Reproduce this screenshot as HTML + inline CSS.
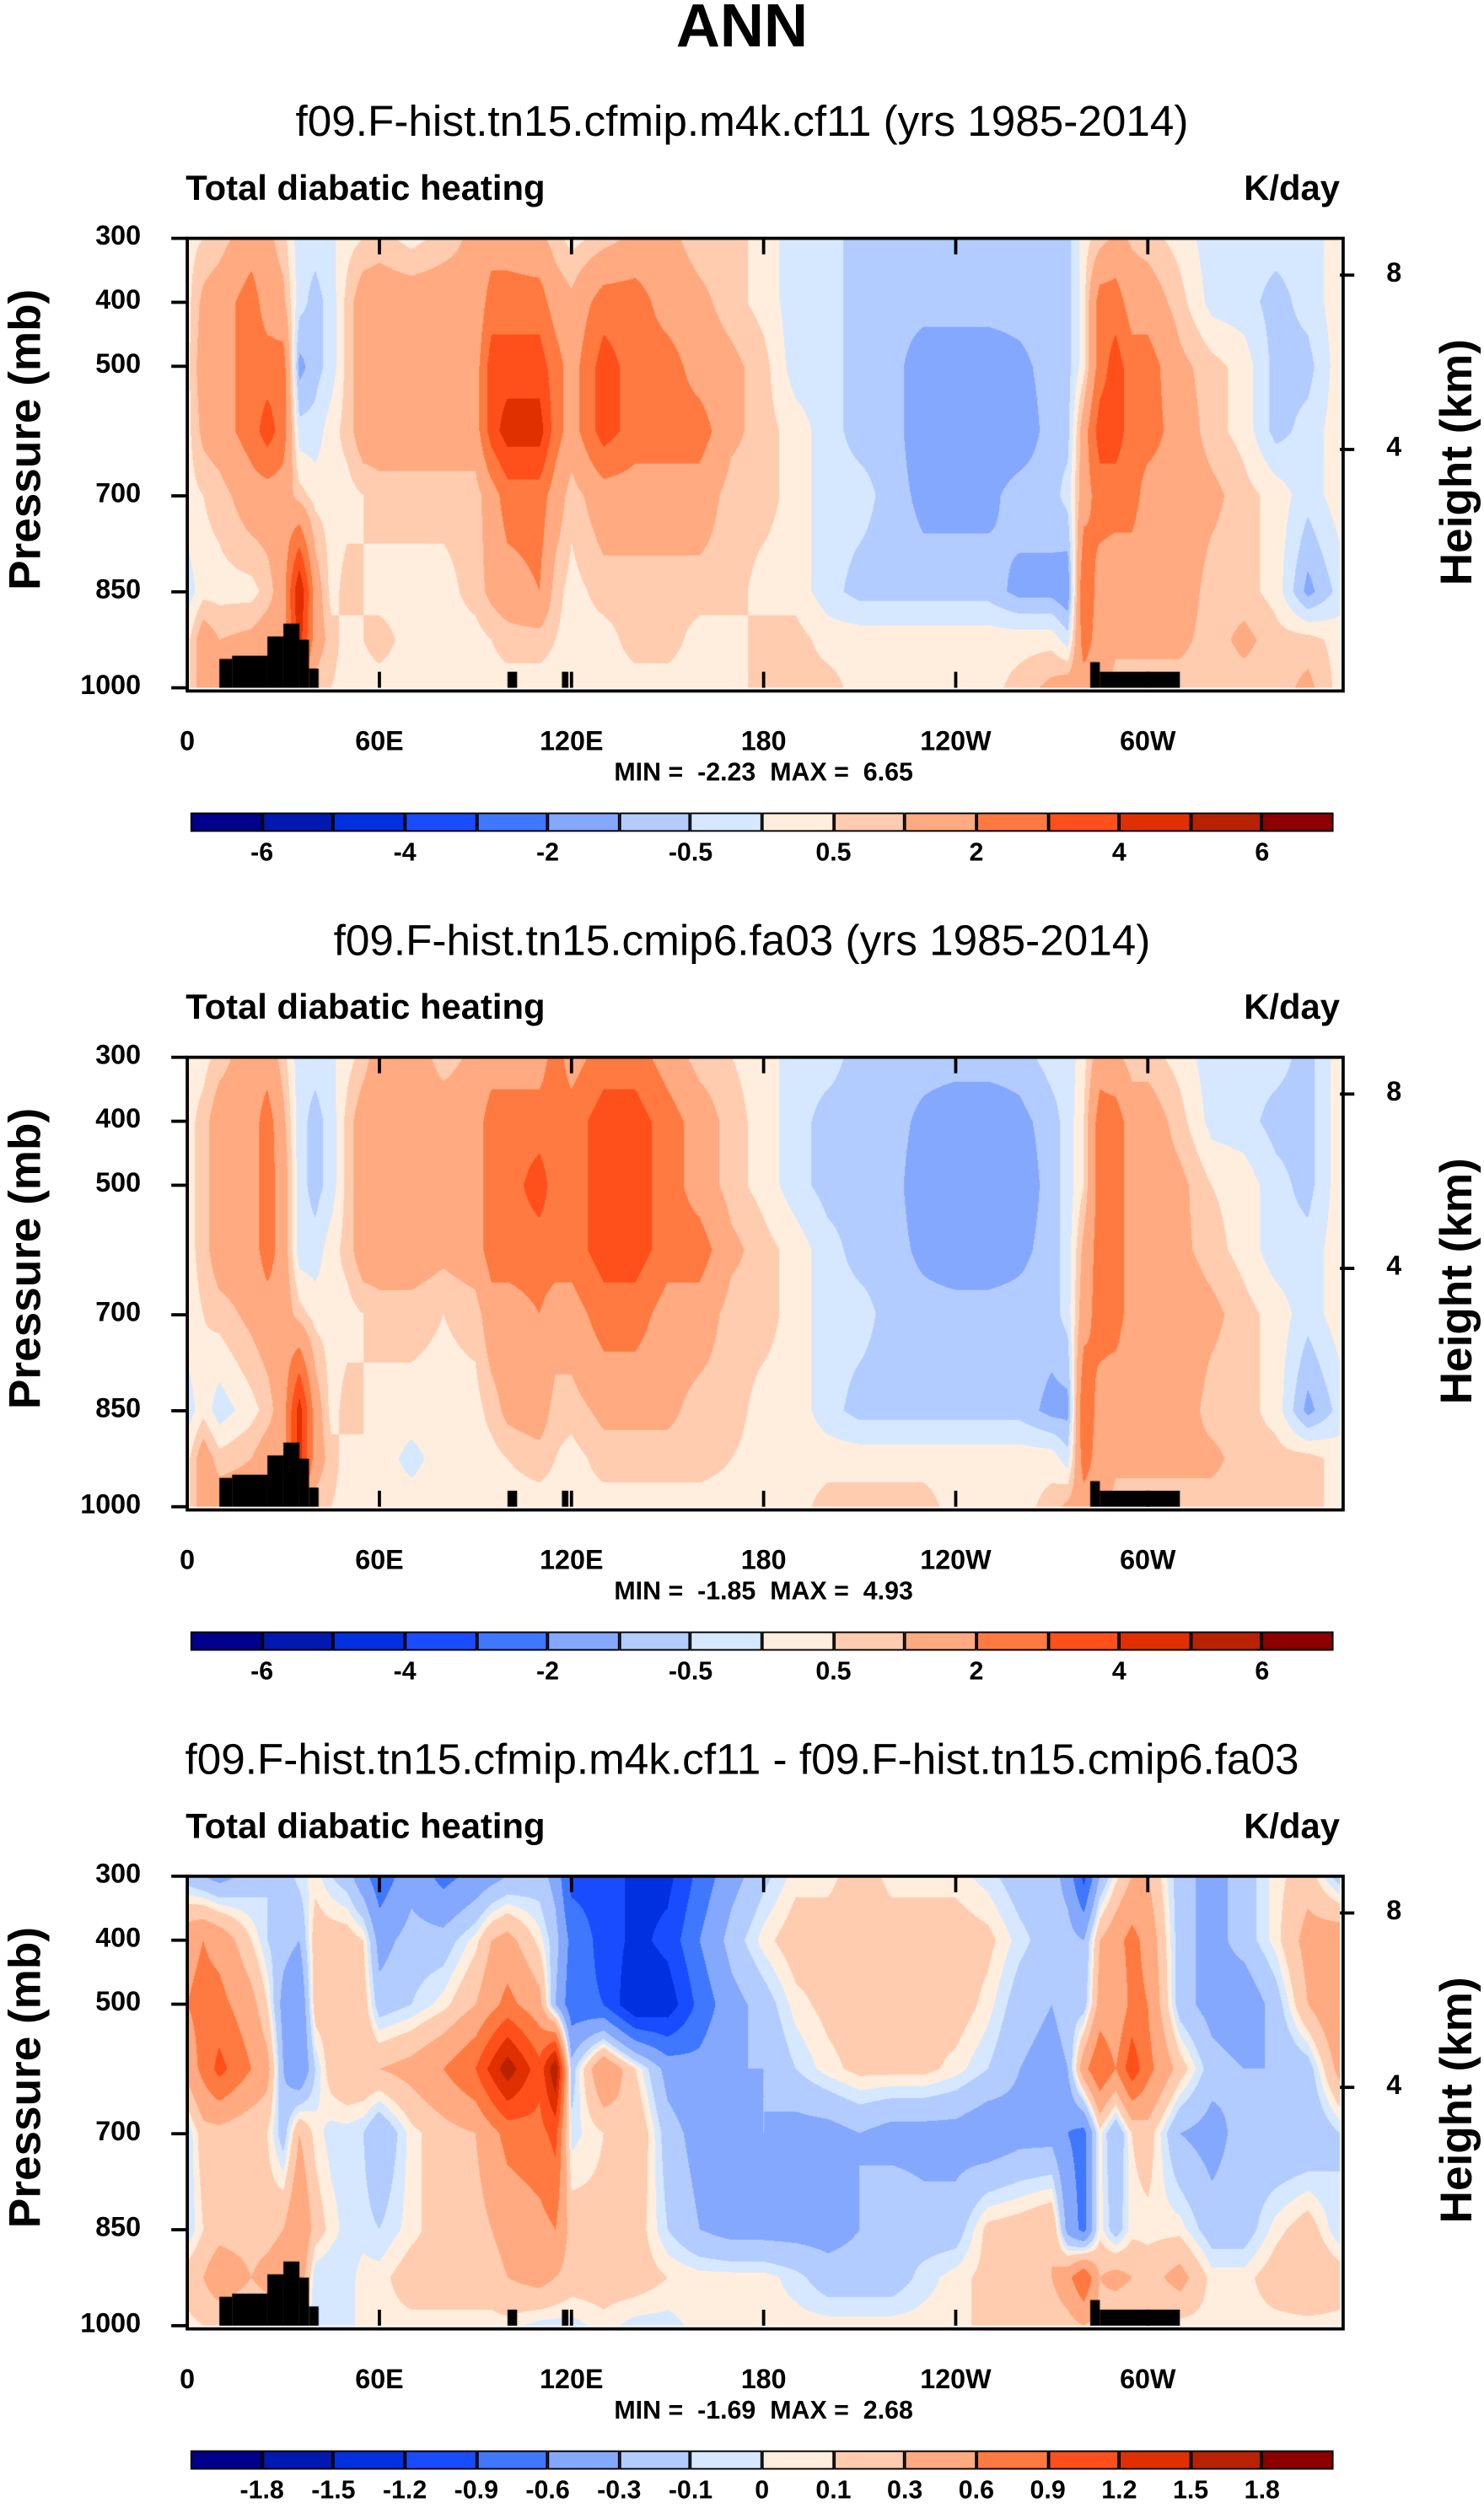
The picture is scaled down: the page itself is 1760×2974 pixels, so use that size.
<!DOCTYPE html>
<html><head><meta charset="utf-8">
<style>
html,body{margin:0;padding:0;background:#fff;}
body{width:1760px;height:2974px;overflow:hidden;position:relative;}
#root{position:absolute;left:0;top:0;width:927px;height:1568px;transform:scale(1.8986,1.8967);transform-origin:0 0;font-family:"Liberation Sans",Arial,sans-serif;color:#000;}
.t{position:absolute;white-space:pre;}
.b{font-weight:bold;}
canvas{position:absolute;}
</style></head>
<body>
<div id="root">
<div class="t b" style="left:0;width:927px;text-align:center;top:-4px;font-size:38px;">ANN</div>
</div>
<script>
// ---------- data ----------
const lons=[0,5,10,20,25,30,35,40,45,50,55,60,70,80,90,95,100,110,115,120,130,140,150,160,170,180,190,200,210,220,230,240,250,260,270,275,280,285,290,295,300,310,320,330,340,350];
const levels=[300,400,500,600,700,850,925,1000];
const field1=[
[0.3,0.5,0.7,1.5,1.2,0.7,-0.3,-0.3,-0.1,0.3,0.5,0.7,0.3,0.7,1.2,1.5,1.5,1.2,0.7,0.3,0.7,1.2,1.2,0.7,0.7,0.3,-0.3,-0.3,-0.7,-0.7,-0.7,-0.7,-0.7,-0.7,-0.7,-0.7,0.3,0.7,1.2,0.9,0.7,0.3,-0.3,-0.3,-0.3,-0.3],
[0.3,1.2,1.5,2.5,1.5,1.2,-0.3,-0.7,-0.3,0.7,1.5,1.5,1.5,1.5,1.2,2.5,2.5,2.5,1.5,1.2,2.5,2.5,1.5,1.2,0.7,0.3,-0.3,-0.3,-0.7,-0.7,-0.7,-0.7,-0.7,-0.7,-0.7,-0.7,0.3,2.5,2.5,1.5,1.5,0.7,-0.2,-0.3,-0.7,-0.3],
[0.3,1.5,1.5,2.5,2.5,2.5,-1.2,-0.7,-0.3,0.7,1.5,1.5,1.5,1.5,1.5,3.5,3.5,3.5,2.5,1.5,3.5,2.5,2.5,1.5,1.2,0.7,-0.3,-0.3,-0.7,-0.7,-1.5,-1.5,-1.5,-1.2,-0.7,-0.7,0.3,2.5,3.5,2.5,2.5,1.2,0.7,0.3,-0.7,-0.7],
[0.3,1.2,1.5,2.5,3.5,2.5,-0.3,-0.3,0.3,0.7,1.5,1.5,1.5,1.5,1.5,3.5,4.5,4.5,2.5,1.5,3.5,2.5,2.5,2.5,1.2,0.7,0.3,-0.3,-0.7,-0.7,-1.5,-1.5,-1.5,-1.5,-0.7,-0.7,1.5,3.5,3.5,2.5,2.5,1.5,0.7,0.3,-0.7,-0.3],
[0.3,0.5,0.7,1.5,1.5,1.5,0.7,0.3,0.3,0.3,0.5,0.7,0.7,0.7,0.7,1.5,2.5,2.5,1.5,0.7,1.5,1.5,1.5,1.5,0.7,0.7,0.3,-0.3,-0.3,-0.7,-1.2,-1.2,-1.2,-0.7,-0.7,-0.3,1.5,2.5,2.5,2.5,1.5,1.5,1.2,0.7,0.3,-0.3],
[-0.3,0.3,0.3,0.3,0.7,1.5,5,1.5,0.3,0.7,0.5,0.3,0.3,0.3,0.7,1.2,1.5,2,0.7,0.3,0.7,0.7,0.7,0.7,0.7,0.3,0.3,-0.3,-0.7,-0.7,-0.7,-0.7,-0.7,-1.2,-1.2,-1.5,3,1.5,1.2,1.2,1.2,1.5,0.7,0.7,0.3,-1.2],
[0.3,1.5,1,1.2,1.5,1.5,4.5,1.5,0.7,0.3,0.5,0.7,0.3,0.3,0.3,0.5,0.7,0.7,0.5,0.3,0.3,0.7,0.7,0.3,0.3,0.7,0.7,0.3,0.3,0.3,0.3,0.3,0.3,0.3,0.3,-0.3,2.5,1.5,1.2,1.2,1.2,1.2,0.7,1.2,0.7,0.7],
[0.3,1.5,1.5,1.5,1.5,1.5,1.5,0.7,0.5,0.3,0.3,0.3,0.3,0.3,0.3,0.3,0.3,0.3,0.3,0.3,0.3,0.3,0.3,0.3,0.3,0.7,0.7,0.7,0.3,0.3,0.3,0.3,0.3,0.7,1.2,1.5,1.5,1.5,0.7,0.7,0.7,0.7,0.7,0.7,0.7,1.2]];
const field2=[
[0.3,0.3,0.7,1.5,1.5,0.7,-0.3,-0.3,-0.1,0.3,0.7,1.5,1.5,0.7,1.2,1.5,1.5,1.5,2.5,1.5,2.5,2.5,1.5,0.7,0.5,0.3,-0.3,-0.3,-0.7,-0.7,-0.7,-0.7,-0.7,-0.7,-0.3,-0.3,0.3,1.5,1.2,0.7,0.7,0.3,-0.3,-0.3,-0.3,-0.7],
[0.3,0.7,1.5,1.5,2.5,1.2,-0.3,-0.7,-0.3,0.7,1.5,1.5,1.5,1.5,1.5,2.5,2.5,2.5,2.5,2.5,3.5,3.5,2.5,1.5,0.7,0.3,-0.3,-0.7,-0.7,-0.7,-1.2,-1.5,-1.5,-1.2,-0.7,-0.3,0.5,2.5,2.5,1.5,1.5,0.7,-0.2,-0.3,-0.7,-0.7],
[0.3,0.7,1.5,1.5,2.5,1.5,-0.3,-0.7,-0.3,0.7,1.5,1.5,1.5,1.5,1.5,2.5,2.5,3.5,2.5,2.5,3.5,3.5,2.5,1.5,0.7,0.3,-0.3,-0.7,-0.7,-0.7,-1.5,-1.5,-1.5,-1.5,-0.7,-0.3,0.5,2.5,2.5,1.5,1.5,1.2,0.5,0.3,-0.3,-0.7],
[0.3,0.7,1.5,1.5,2.5,1.5,-0.3,-0.3,0.3,0.7,1.5,1.5,1.5,1.2,1.5,2.5,2.5,2.5,2.5,2.5,3.5,3.5,2.5,2.5,1.2,0.7,0.3,-0.3,-0.7,-0.7,-1.2,-1.5,-1.5,-1.2,-0.7,-0.3,1.2,2.5,2.5,1.5,1.5,1.2,0.7,0.3,-0.3,-0.3],
[0.3,0.5,0.7,1.2,1.5,1.5,0.7,0.3,0.3,0.3,0.5,0.7,0.7,0.5,0.7,1.5,1.5,2,1.5,1.5,2.5,2.5,1.5,1.5,0.7,0.7,0.3,-0.3,-0.3,-0.7,-0.7,-0.7,-0.7,-0.7,-0.7,-0.3,1.5,2.5,2.5,1.5,1.5,1.5,1.2,0.7,0.3,-0.3],
[-0.3,0.3,-0.3,0.3,0.7,1.5,4.5,1.5,0.3,0.7,0.5,0.3,0.3,0.3,0.3,0.7,1.2,1.5,0.7,0.7,1.2,1.2,1.2,0.7,0.7,0.3,0.3,-0.3,-0.7,-0.7,-0.7,-0.7,-0.7,-0.7,-1.2,-1.2,3,1.5,1.2,1.2,1.2,1.5,0.7,0.7,0.3,-1.2],
[0.3,1.5,0.7,1,1.5,1.5,4.5,1.5,0.7,0.3,0.5,0.3,-0.2,0.3,0.3,0.3,0.5,0.7,0.5,0.3,0.7,0.7,0.7,0.7,0.5,0.3,0.3,0.3,0.3,0.3,0.3,0.3,0.3,0.3,0.3,-0.3,2.5,1.5,1.2,1.2,1.2,1.2,1.2,0.7,0.7,0.7],
[0.3,1.5,1.5,1.5,1.5,1.5,1.5,0.7,0.5,0.3,0.3,0.3,0.3,0.3,0.3,0.3,0.3,0.3,0.3,0.3,0.3,0.3,0.3,0.3,0.3,0.3,0.3,0.7,0.7,0.7,0.7,0.3,0.3,0.3,0.7,1.2,1.5,1.5,0.7,0.7,0.7,0.7,0.7,0.7,0.7,0.7]];
const field3=[
[-0.2,-0.3,-0.4,-0.2,-0.1,-0.2,-0.05,0.05,-0.1,-0.2,-0.5,-0.8,-0.4,-0.7,-0.5,-0.4,-0.3,-0.2,-0.4,-1.0,-1.0,-1.3,-1.3,-0.8,-0.4,-0.15,0.05,0.05,0.2,0.05,0.05,0.05,-0.05,-0.2,-0.2,-0.4,-1.0,-0.3,0.05,0.3,0.3,-0.2,-0.4,-0.2,0.05,0.2],
[0.5,0.6,0.5,0.1,-0.1,-0.2,-0.3,0.2,0.2,0.2,0.1,-0.4,-0.2,-0.2,0.05,0.3,0.4,0.05,-0.2,-0.7,-1.0,-1.3,-1.1,-0.6,-0.2,0.05,0.2,0.2,0.2,0.2,0.2,0.2,0.15,-0.05,-0.2,-0.2,-0.3,0.3,0.5,0.7,0.5,-0.2,-0.4,-0.2,0.05,0.4],
[0.6,0.7,0.7,0.4,0.1,-0.4,-0.6,0.2,0.2,0.3,0.2,-0.2,-0.1,0.05,0.3,0.5,0.7,0.4,-0.3,-0.8,-0.9,-1.5,-1.4,-0.8,-0.4,-0.2,0.05,0.15,0.2,0.2,0.2,0.2,0.05,-0.2,-0.3,-0.2,-0.2,0.4,0.3,0.7,0.6,-0.2,-0.4,-0.5,-0.2,0.3],
[0.4,0.7,1.0,0.6,0.4,-0.3,-0.6,-0.1,0.2,0.3,0.3,0.3,0.4,0.6,0.9,1.3,1.7,1.0,1.8,-0.2,0.6,0.1,-0.4,-0.5,-0.3,-0.3,-0.1,0.05,0.15,0.15,0.15,0.05,-0.1,-0.3,-0.4,-0.3,0.5,0.9,0.6,1.1,0.7,0.2,-0.2,-0.3,-0.3,-0.2],
[-0.1,0.2,0.2,0.1,0.1,-0.2,0.3,0.05,-0.05,-0.05,-0.1,-0.3,0.05,0.2,0.3,0.5,0.7,0.8,1.0,-0.05,0.1,0.3,-0.2,-0.4,-0.4,-0.3,-0.4,-0.4,-0.3,-0.4,-0.4,-0.4,-0.5,-0.4,-0.4,-0.6,-0.7,0.05,-0.3,0.1,0.2,-0.3,-0.4,-0.2,-0.3,-0.3],
[-0.1,0.1,0.2,0.2,0.2,0.3,0.6,0.2,0.05,-0.05,-0.05,-0.1,0.05,0.2,0.2,0.3,0.4,0.5,0.6,0.2,0.15,0.2,-0.1,-0.3,-0.4,-0.4,-0.4,-0.4,-0.3,-0.1,-0.2,-0.2,0.15,0.2,0.3,-0.4,-0.7,0.05,-0.2,0.05,0.05,0.05,-0.2,-0.2,0.05,0.2],
[0.2,0.3,0.5,0.3,0.4,0.5,0.5,-0.1,-0.1,-0.05,0.05,0.05,0.2,0.2,0.2,0.2,0.3,0.4,0.3,0.2,0.2,0.2,0.1,0.05,0.05,0.05,-0.05,-0.2,-0.2,-0.2,-0.05,0.05,0.15,0.3,0.3,0.5,0.9,0.3,0.4,0.3,0.2,0.4,0.05,0.05,0.2,0.3],
[0.05,0.1,0.1,0.1,0.1,0.1,0.1,-0.05,-0.05,-0.05,0.05,0.05,0.05,0.05,0.05,0.05,0.05,-0.05,-0.05,-0.05,0.05,-0.05,-0.05,0.05,0.05,0.05,0.05,0.05,0.05,0.05,0.05,0.05,0.15,0.15,0.15,0.2,0.3,0.2,0.05,0.05,0.05,0.05,0.05,0.05,0.05,0.05]];
const levelsAbs=[-6,-5,-4,-3,-2,-1,-0.5,0,0.5,1,2,3,4,5,6];
const labelsAbs=["","-6","","-4","","-2","","-0.5","","0.5","","2","","4","","6"];
const levelsDiff=[-1.8,-1.5,-1.2,-0.9,-0.6,-0.3,-0.1,0,0.1,0.3,0.6,0.9,1.2,1.5,1.8];
const colors=["#00008c","#0019b0","#0030e0","#1a4cff","#3f78ff","#85a8ff","#b3ccff","#d6e8ff","#ffeedd","#ffccb0","#ffaa80","#ff7a40","#ff4f1a","#e03000","#b82200","#8c0000"];
const topoStart=[10,14,25,30,35,38,100,117,282,285];
const topoEnd=[14,25,30,35,38,41,103,119,285,310];
const topoP=[955,950,920,900,925,970,975,975,960,975];
const xTickLon=[0,60,120,180,240,300];
const xTickLab=["0","60E","120E","180","120W","60W"];
const pTicks=[300,400,500,700,850,1000];
const hTicks=[8,4];
const hTickP=[358,628];
const panels=[
 {top:0,sub:"f09.F-hist.tn15.cfmip.m4k.cf11 (yrs 1985-2014)",field:field1,lev:levelsAbs,lab:labelsAbs,mm:"MIN =  -2.23  MAX =  6.65"},
 {top:512,sub:"f09.F-hist.tn15.cmip6.fa03 (yrs 1985-2014)",field:field2,lev:levelsAbs,lab:labelsAbs,mm:"MIN =  -1.85  MAX =  4.93"},
 {top:1024,sub:"f09.F-hist.tn15.cfmip.m4k.cf11 - f09.F-hist.tn15.cmip6.fa03",field:field3,lev:levelsDiff,lab:["",...levelsDiff.map(String)],mm:"MIN =  -1.69  MAX =  2.68"}];
// ---------- drawing ----------
const root=document.getElementById('root');
const PX=117,PW=720,PH=281,SX=1.8986,SY=1.8967;
function txt(name,s,l,t,size,bold,extra){const d=document.createElement('div');
 
 
 d.className='t'+(bold?' b':'');d.textContent=s;d.style.left=l+'px';d.style.top=t+'px';d.style.fontSize=size+'px';if(extra)d.style.cssText+=extra;root.appendChild(d);return d;}
function box(name,l,t,w,h,bg,extra){const d=document.createElement('div');
 
 
 d.style.cssText='position:absolute;left:'+l+'px;top:'+t+'px;width:'+w+'px;height:'+h+'px;background:'+bg+';'+(extra||'');root.appendChild(d);return d;}
function xOf(lon){return PX+lon*PW/360;}
function colorIdx(v,lev){let i=0;while(i<lev.length&&v>=lev[i])i++;return i;}
function val(f,li,i){const v=f[li][i];return (typeof v==='number')?v:0;}
function sample(f,lon,p){
 let li=0;while(li<levels.length-2&&p>levels[li+1])li++;
 let tp=(p-levels[li])/(levels[li+1]-levels[li]);tp=Math.max(0,Math.min(1,tp));
 const n=lons.length;let i0=n-1;for(let i=0;i<n;i++){if(lons[i]<=lon)i0=i;}
 const i1=(i0+1)%n;const l0=lons[i0],l1=(i1===0)?360:lons[i1];const tx=(lon-l0)/(l1-l0);
 const a=val(f,li,i0)*(1-tx)+val(f,li,i1)*tx,b=val(f,li+1,i0)*(1-tx)+val(f,li+1,i1)*tx;return a*(1-tp)+b*tp;}
panels.forEach((P,k)=>{
 const T=P.top,Y0=149+T;
 txt('panel-'+(k+1)+'-subtitle',P.sub,0,T+61,27,false,'width:927px;text-align:center;');
 txt('panel-'+(k+1)+'-variable-label','Total diabatic heating',116,T+105,22,true);
 txt('panel-'+(k+1)+'-units-label','K/day',777,T+105,22,true);
 const cv=document.createElement('canvas');
 
 
 const cw=Math.round(PW*SX),ch=Math.round(PH*SY);cv.width=cw;cv.height=ch;
 cv.style.left=PX+'px';cv.style.top=Y0+'px';cv.style.width=PW+'px';cv.style.height=PH+'px';root.appendChild(cv);
 const ctx=cv.getContext('2d');const img=ctx.createImageData(cw,ch);
 const rgb=colors.map(c=>[parseInt(c.substr(1,2),16),parseInt(c.substr(3,2),16),parseInt(c.substr(5,2),16)]);
 for(let y=0;y<ch;y++){const p=300+700*(y+0.5)/ch;for(let x=0;x<cw;x++){const lon=360*(x+0.5)/cw;const v=sample(P.field,lon,p);const c=rgb[colorIdx(v,P.lev)];const o=(y*cw+x)*4;img.data[o]=c[0];img.data[o+1]=c[1];img.data[o+2]=c[2];img.data[o+3]=255;}}
 ctx.putImageData(img,0,0);
 ctx.fillStyle='#000';
 for(let i=0;i<topoStart.length;i++){const x0=topoStart[i]/360*cw,x1=topoEnd[i]/360*cw,y0=(topoP[i]-300)/700*ch;ctx.fillRect(x0,y0,x1-x0,ch-y0);}
 box('panel-'+(k+1)+'-plot-frame',PX-1,Y0-1,PW,PH,'transparent','border:2px solid #000;');
 xTickLon.forEach((L,i)=>{const x=xOf(L);
  if(L>0){box('x-tick-top',x-1,Y0,2,10,'#000');box('x-tick-bottom',x-1,Y0+PH-10,2,10,'#000');}
  txt('x-tick-label',xTickLab[i],x-40,Y0+PH+24,17,true,'width:80px;text-align:center;');});
 pTicks.forEach(p=>{const y=Y0+(p-300)/700*PH;box('pressure-tick',PX-10,y-1,10,2,'#000');
  txt('pressure-tick-label',String(p),20,y-11,17,true,'width:68px;text-align:right;');});
 hTicks.forEach((h,i)=>{const y=Y0+(hTickP[i]-300)/700*PH;box('height-tick',PX+PW,y-1,9,2,'#000');
  txt('height-tick-label',String(h),866,y-11,17,true);});
 txt('y-axis-title','Pressure (mb)',-64,Y0+PH/2-17,28,true,'width:160px;text-align:center;transform:rotate(-90deg);');
 txt('right-axis-title','Height (km)',830,Y0+PH/2-17,28,true,'width:160px;text-align:center;transform:rotate(-90deg);');
 txt('min-max-label',P.mm,0,Y0+PH+45,16,true,'width:954px;text-align:center;');
 const CB0=119,CBW=714,CBY=508+T,n=colors.length,bw=CBW/n;
 colors.forEach((c,i)=>{box('colorbar-swatch',CB0+i*bw,CBY,bw,12,c,'box-sizing:border-box;border:1px solid #000;');});
 P.lab.forEach((s,i)=>{if(s)txt('colorbar-label',s,CB0+i*bw-30,CBY+17,16,true,'width:60px;text-align:center;');});
});
</script>
</body></html>
